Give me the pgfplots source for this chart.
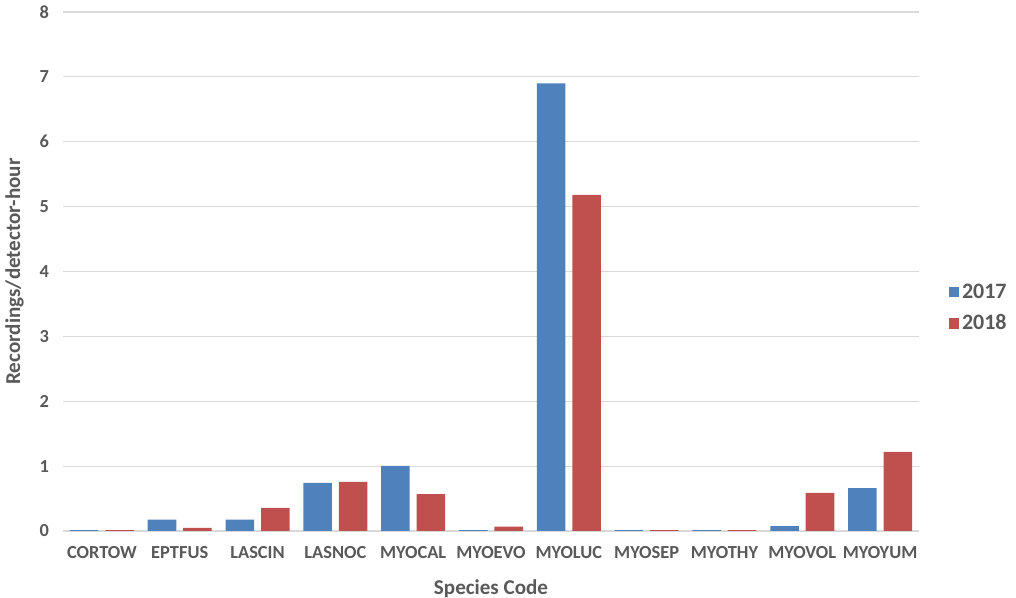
\documentclass[border=0pt]{standalone}
\usepackage{pgfplots}
\pgfplotsset{compat=1.18}
\usepackage{fontspec}
\setmainfont{Carlito}
\definecolor{blueA}{RGB}{79,129,189}
\definecolor{redA}{RGB}{192,80,77}
\definecolor{txt}{RGB}{89,89,89}
\definecolor{gridc}{RGB}{217,217,217}
\begin{document}
\begin{tikzpicture}
\useasboundingbox (-47.25pt,-50.25pt) rectangle (714.75pt,398.25pt);
\begin{axis}[
  at={(0pt,0pt)}, anchor=south west,
  scale only axis, width=642pt, height=389.25pt,
  ymin=0, ymax=8, ytick={0,1,...,8},
  xmin=-0.5, xmax=10.5,
  xtick={0,...,10},
  xticklabels={CORTOW,EPTFUS,LASCIN,LASNOC,MYOCAL,MYOEVO,MYOLUC,MYOSEP,MYOTHY,MYOVOL,MYOYUM},
  axis line style={draw=none},
  major tick length=0pt,
  ymajorgrids, grid style={gridc, line width=0.9pt},
  ybar, bar width=21.4pt,
  tick label style={font=\fontsize{13.8}{16}\selectfont\bfseries, text=txt},
  /pgf/number format/assume math mode=true,
  xticklabel style={yshift=-8pt},
  yticklabel style={xshift=-7pt},
  ylabel={Recordings/detector-hour},
  xlabel={Species Code},
  label style={font=\fontsize{15.8}{18}\selectfont\bfseries, text=txt},
  ylabel style={at={(axis description cs:0,0.5)}, anchor=south, yshift=26pt},
  xlabel style={at={(axis description cs:0.5,0)}, anchor=north, yshift=-33pt},
  legend style={draw=none, fill=none, at={(axis description cs:1.03,0.43)}, anchor=west,
    font=\fontsize{16.5}{19}\selectfont\bfseries, text=txt, row sep=7pt},
  legend image code/.code={\fill[#1] (0pt,-3.9pt) rectangle (7.8pt,3.9pt);},
  legend cell align=left,
]
\addplot[fill=blueA, draw=none, bar shift=-13.3pt] coordinates {
 (0,0.015) (1,0.175) (2,0.175) (3,0.742) (4,1.005) (5,0.015)
 (6,6.90) (7,0.015) (8,0.015) (9,0.077) (10,0.66)};
\addplot[fill=redA, draw=none, bar shift=13.3pt] coordinates {
 (0,0.015) (1,0.05) (2,0.356) (3,0.758) (4,0.567) (5,0.067)
 (6,5.18) (7,0.015) (8,0.015) (9,0.588) (10,1.22)};
\legend{2017,2018}
\end{axis}
\end{tikzpicture}
\end{document}
